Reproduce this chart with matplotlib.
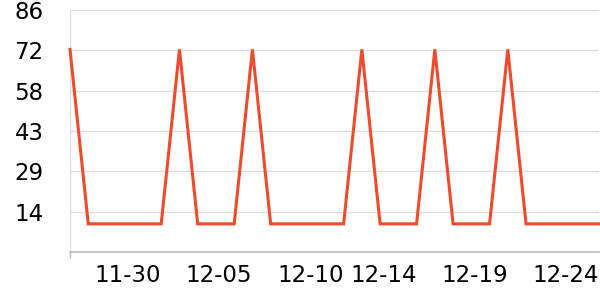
import matplotlib
matplotlib.use("Agg")
import matplotlib.pyplot as plt

# daily values 11-25 .. 12-24
dates = ["11-25", "11-26", "11-27", "11-28", "11-29", "11-30",
         "12-01", "12-02", "12-03", "12-04", "12-05", "12-06",
         "12-07", "12-08", "12-09", "12-10", "12-11", "12-12",
         "12-13", "12-14", "12-15", "12-16", "12-17", "12-18",
         "12-19", "12-20", "12-21", "12-22", "12-23", "12-24"]
values = [72, 10, 10, 10, 10, 10, 72, 10, 10, 10, 72, 10, 10, 10, 10, 10,
          72, 10, 10, 10, 72, 10, 10, 10, 72, 10, 10, 10, 10, 10]
y_ticks = [14.33, 28.67, 43, 57.33, 71.67, 86]
y_labels = ["14", "29", "43", "58", "72", "86"]
grid_idx = [0, 5, 10, 15, 19, 24]
label_idx = [5, 10, 15, 19, 24, 29]

fig = plt.figure(figsize=(6, 3), dpi=100)
ax = fig.add_axes([70 / 600, 48 / 300, 529 / 600, 242 / 300])

x = list(range(len(values)))
ax.plot(x, values, color="#ef4a2c", linewidth=2.2, solid_joinstyle="miter", clip_on=False, zorder=3)

ax.set_xlim(0, len(values) - 1)
ax.set_ylim(0, 86)

ax.set_yticks(y_ticks)
ax.set_yticklabels(y_labels)
ax.tick_params(axis="y", length=0, pad=19, labelsize=16.5)
ax.grid(axis="y", color="#dddddd", linewidth=1)

ax.set_xticks(label_idx)
ax.set_xticklabels([dates[i] for i in label_idx], ha="right")
ax.tick_params(axis="x", which="major", length=0, pad=9, labelsize=16.5)
ax.set_xticks(grid_idx, minor=True)
ax.tick_params(axis="x", which="minor", length=4, color="#bbbbbb", width=1)
ax.grid(axis="x", which="minor", color="#dddddd", linewidth=1)
ax.grid(axis="x", which="major", visible=False)

for side in ["top", "right", "left"]:
    ax.spines[side].set_visible(False)
ax.spines["bottom"].set_color("#bbbbbb")
ax.spines["bottom"].set_linewidth(1.2)
ax.set_axisbelow(True)

fig.savefig("out.png", dpi=100)
